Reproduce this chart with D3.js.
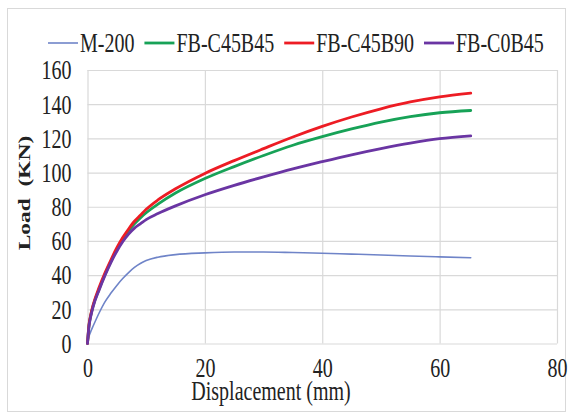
<!DOCTYPE html>
<html><head><meta charset="utf-8">
<script src="https://cdn.jsdelivr.net/npm/d3@7"></script>
<style>body{margin:0;background:#fff}</style></head>
<body><svg id="c" width="579" height="413"></svg>
<script>
// ---- data ----
const displacement = [0,0.25,0.5,1,2,3,4,5,6,7,8,9,10,12,15,20,25,30,35,40,45,50,55,60,65.3];
const loadM200     = [0,4,6.5,10.5,18,24.5,29.5,34,38,41.5,44.5,46.8,48.5,50.5,52,53,53.5,53.5,53.2,52.8,52.3,51.8,51.2,50.7,50.2];
const loadC45B45   = [0,10.5,15.5,22.5,32,40.5,48,55,61,66,70,73.5,76.5,81.5,88,96.5,103.5,110,116,121,125.5,129.5,132.7,135,136.3];
const loadC45B90   = [0,11,16,23,33,41.5,49,56,62,67,71.5,75,78.5,84,90.5,99.5,107,114,120.8,127,132.5,137.3,141.3,144.3,146.5];
const loadC0B45    = [0,10,15,22,31.5,40,47.5,54,59.5,64,67.5,70,72.5,76,80.5,87,92.5,97.5,102.2,106.4,110.4,114,117.2,119.8,121.5];
const seriesNames  = ["M-200","FB-C45B45","FB-C45B90","FB-C0B45"];
const seriesValues = [loadM200, loadC45B45, loadC45B90, loadC0B45];
const seriesColors = ["#6f84c8","#17a257","#ed1c24","#6a35a3"];
const seriesWidths = [1.6, 2.8, 2.8, 2.8];
const xTicks = [0,20,40,60,80];
const yTicks = [0,20,40,60,80,100,120,140,160];
const xTitle = "Displacement (mm)";
const yTitle = "Load\u00a0\u00a0(KN)";

// ---- layout ----
const svg = d3.select("#c");
const FONT = "Liberation Serif, Times New Roman, serif";
const S = 1.38; // vertical text stretch seen in the reference
const m = {l:87.5, r:557, t:70, b:343.5};
const x = d3.scaleLinear().domain([0,80]).range([m.l,m.r]);
const y = d3.scaleLinear().domain([0,160]).range([m.b,m.t]);

svg.append("rect").attr("x",7.5).attr("y",8.5).attr("width",558).attr("height",403)
  .attr("fill","#fff").attr("stroke","#d9d9d9");

// y axis + horizontal grid
const gy = svg.append("g").attr("transform",`translate(${m.l},0)`)
  .call(d3.axisLeft(y).tickValues(yTicks).tickSize(-(m.r-m.l)).tickPadding(16).tickFormat(d3.format("d")));
gy.select(".domain").remove();
gy.selectAll(".tick line").attr("stroke","#d9d9d9").attr("stroke-width",1.2);
gy.selectAll(".tick text").attr("font-family",FONT).attr("font-size",20).attr("fill","#222")
  .attr("transform",`scale(1,${S})`);

// x axis + vertical grid
const gx = svg.append("g").attr("transform",`translate(0,${m.b})`)
  .call(d3.axisBottom(x).tickValues(xTicks).tickSize(-(m.b-m.t)).tickPadding(10).tickFormat(d3.format("d")));
gx.select(".domain").remove();
gx.selectAll(".tick line").attr("stroke","#d9d9d9").attr("stroke-width",1.2);
gx.selectAll(".tick text").attr("font-family",FONT).attr("font-size",20).attr("fill","#222")
  .attr("transform",`scale(1,${S})`);

// series
const line = d3.line().x(d=>x(d[0])).y(d=>y(d[1])).curve(d3.curveMonotoneX);
seriesValues.forEach((vals,i)=>{
  svg.append("path").datum(displacement.map((d,j)=>[d,vals[j]]))
    .attr("d",line).attr("fill","none").attr("stroke",seriesColors[i])
    .attr("stroke-width",seriesWidths[i]).attr("stroke-linejoin","round").attr("stroke-linecap","round");
});

// titles
svg.append("text").attr("transform",`translate(271,400) scale(1,${S})`)
  .attr("text-anchor","middle").attr("font-family",FONT).attr("font-size",20).attr("fill","#222").text(xTitle);
svg.append("text").attr("transform",`translate(30,193) rotate(-90) scale(${S},1)`)
  .attr("text-anchor","middle").attr("font-family",FONT).attr("font-size",17).attr("font-weight","bold")
  .attr("fill","#222").text(yTitle);

// legend
let lx = 48; const ly = 43;
seriesNames.forEach((name,i)=>{
  svg.append("line").attr("x1",lx).attr("x2",lx+30).attr("y1",ly).attr("y2",ly)
    .attr("stroke",seriesColors[i]).attr("stroke-width",seriesWidths[i]);
  const t = svg.append("text").attr("transform",`translate(${lx+32},52) scale(1,${S})`)
    .attr("font-family",FONT).attr("font-size",20).attr("fill","#222").text(name);
  lx += 32 + t.node().getComputedTextLength() + 10;
});
</script>
</body></html>
